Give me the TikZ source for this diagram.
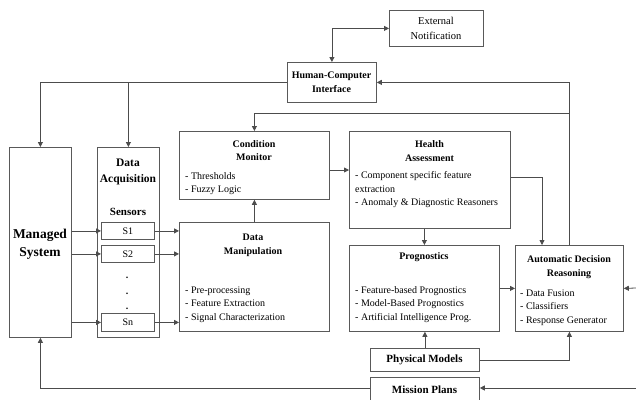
\documentclass[tikz,border=0pt]{standalone}
\usepackage{fontspec}
\setmainfont{Liberation Serif}
\usetikzlibrary{arrows.meta}
\begin{document}
\begin{tikzpicture}[x=1pt,y=-1pt,
  box/.style={draw=black!65,line width=0.8pt,inner sep=0pt,anchor=north west},
  ttl/.style={font=\fontsize{10}{13.5}\selectfont\bfseries,align=center,inner sep=0pt},
  lst/.style={font=\fontsize{10}{13.5}\selectfont,align=left,inner sep=0pt,anchor=west},
  wire/.style={draw=black!70,line width=0.8pt},
  arr/.style={wire,-{Triangle[length=5pt,width=5pt]}},
  biarr/.style={wire,{Triangle[length=5pt,width=5pt]}-{Triangle[length=5pt,width=5pt]}}]
\useasboundingbox (0,0) rectangle (636,399);

% boxes (top-left corner, size)
\node[box,minimum width=94pt,minimum height=36pt]  (ext)  at (389,10)  {};
\node[box,minimum width=89pt,minimum height=40pt]  (hci)  at (287,62)  {};
\node[box,minimum width=62pt,minimum height=190pt] (ms)   at (9,147)   {};
\node[box,minimum width=62pt,minimum height=190pt] (da)   at (97,147)  {};
\node[box,minimum width=53pt,minimum height=17pt]  (s1)   at (101,222) {};
\node[box,minimum width=53pt,minimum height=17pt]  (s2)   at (101,245) {};
\node[box,minimum width=53pt,minimum height=18pt]  (sn)   at (101,313) {};
\node[box,minimum width=150pt,minimum height=68pt] (cm)   at (179,131) {};
\node[box,minimum width=161pt,minimum height=97pt] (ha)   at (349,131) {};
\node[box,minimum width=150pt,minimum height=109pt](dm)   at (179,222) {};
\node[box,minimum width=150pt,minimum height=86pt] (prog) at (349,245) {};
\node[box,minimum width=108pt,minimum height=86pt] (adr)  at (515,245) {};
\node[box,minimum width=109pt,minimum height=23pt] (pm)   at (370,348) {};
\node[box,minimum width=109pt,minimum height=28pt] (mp)   at (370,377) {};

% labels
\node[font=\fontsize{10.5}{15}\selectfont,align=center,inner sep=0pt] (extT) at (436,28.5) {External\\Notification};
\node[ttl,font=\fontsize{10}{14}\selectfont\bfseries] (hciT) at (331.5,82) {Human-Computer\\Interface};
\node[ttl,font=\fontsize{13.5}{18}\selectfont\bfseries] (msT) at (40,244) {Managed\\System};
\node[ttl,font=\fontsize{11.5}{16}\selectfont\bfseries] (daT) at (128,172) {Data\\Acquisition};
\node[ttl,font=\fontsize{11}{14}\selectfont\bfseries] (senT) at (128,212) {Sensors};
\node[lst,anchor=center] (s1T) at (s1) {S1};
\node[lst,anchor=center] (s2T) at (s2) {S2};
\node[lst,anchor=center] (snT) at (sn) {Sn};
\node[ttl,anchor=center] (d1) at (127,278) {.};
\node[ttl,anchor=center] (d2) at (127,294) {.};
\node[ttl,anchor=center] (d3) at (127,309) {.};

\node[ttl] (cmT) at (254,150.5) {Condition\\Monitor};
\node[lst] (cmL) at (185,183.5) {- Thresholds\\- Fuzzy Logic};
\node[ttl] (haT) at (429.5,151) {Health\\Assessment};
\node[lst] (haL) at (355,190) {- Component specific feature\\extraction\\- Anomaly \& Diagnostic Reasoners};
\node[ttl] (dmT) at (253,245.5) {Data\\Manipulation};
\node[lst] (dmL) at (185,304.5) {- Pre-processing\\- Feature Extraction\\- Signal Characterization};
\node[ttl] (progT) at (424,257) {Prognostics};
\node[lst] (progL) at (355,304.5) {- Feature-based Prognostics\\- Model-Based Prognostics\\- Artificial Intelligence Prog.};
\node[ttl] (adrT) at (569,267) {Automatic Decision\\Reasoning};
\node[lst] (adrL) at (520,307.5) {- Data Fusion\\- Classifiers\\- Response Generator};
\node[ttl,font=\fontsize{11}{13}\selectfont\bfseries] (pmT) at (424.5,360) {Physical Models};
\node[ttl,font=\fontsize{11}{13}\selectfont\bfseries] (mpT) at (424.5,390) {Mission Plans};

% free ends and junctions
\coordinate (rA) at (636,288);
\coordinate (rB) at (636,388);
\coordinate (jCM) at (569,113);
\coordinate (jHA) at (542,177);
\coordinate (cmy) at (0,170);

% connectors
\draw[biarr] (hci.north) |- (ext.west);
\draw[arr] (hci.west) -| (ms.north);
\draw[arr] (da.north |- hci.west) -- (da.north);
\draw[arr] (adr.north) -- (adr.north |- hci.east) -- (hci.east);
\draw[arr] (jCM) -| (cm.north);
\draw[arr] (cm.east |- cmy) -- (ha.west |- cmy);
\draw[arr] (dm.north) -- (cm.south);
\draw[arr] (prog.north |- ha.south) -- (prog.north);
\draw[arr] (ha.east |- jHA) -- (jHA) -- (jHA |- adr.north);
\draw[arr] (prog.east) -- (adr.west |- prog.east);
\draw[arr] (rA) -- (adr.east);
\draw[arr] (pm.north) -- (prog.south -| pm.north);
\draw[arr] (pm.east) -| (adr.south);
\draw[arr] (rB) -- (mp.east |- rB);
\draw[arr] (mp.west |- rB) -| (ms.south);

\foreach \s in {s1,s2,sn} {
  \draw[arr] (ms.east |- \s.west) -- (\s.west);
  \draw[arr] (\s.east) -- (dm.west |- \s.east);
}
\end{tikzpicture}
\end{document}
